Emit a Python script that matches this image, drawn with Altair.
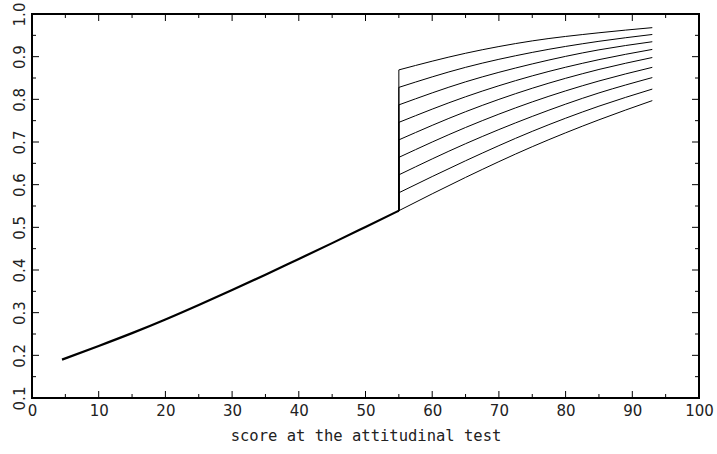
import altair as alt
import pandas as pd

# ---- data ----
base_x = [4.5, 10, 15, 20, 25, 30, 35, 40, 45, 50, 55]
base_y = [0.190, 0.222, 0.252, 0.284, 0.318, 0.353, 0.389, 0.426, 0.463, 0.501, 0.539]

branch_x = [55, 65, 75, 85, 93]
branch_b0 = [0.539, 0.617, 0.689, 0.752, 0.797]
branch_b1 = [0.581, 0.656, 0.725, 0.784, 0.824]
branch_b2 = [0.623, 0.696, 0.760, 0.815, 0.851]
branch_b3 = [0.664, 0.734, 0.794, 0.843, 0.875]
branch_b4 = [0.705, 0.771, 0.826, 0.870, 0.898]
branch_b5 = [0.746, 0.806, 0.855, 0.893, 0.917]
branch_b6 = [0.787, 0.841, 0.883, 0.916, 0.935]
branch_b7 = [0.828, 0.875, 0.910, 0.936, 0.952]
branch_b8 = [0.869, 0.908, 0.937, 0.956, 0.968]
branches = [branch_b0, branch_b1, branch_b2, branch_b3, branch_b4,
            branch_b5, branch_b6, branch_b7, branch_b8]

x_major = [0, 10, 20, 30, 40, 50, 60, 70, 80, 90, 100]
x_minor = [5, 15, 25, 35, 45, 55, 65, 75, 85, 95]
y_major = [0.1, 0.2, 0.3, 0.4, 0.5, 0.6, 0.7, 0.8, 0.9, 1.0]
y_minor = [0.15, 0.25, 0.35, 0.45, 0.55, 0.65, 0.75, 0.85, 0.95]

x_title = "score at the attitudinal test"

W, H = 667, 384
MAJ, MIN = 7, 4
LABEL_FONT = "DejaVu Sans"
INK = "#222222"

# ---- tables ----
base_df = pd.DataFrame({"x": base_x, "y": base_y})
rows = []
for i, b in enumerate(branches):
    for xv, yv in zip(branch_x, b):
        rows.append({"x": xv, "y": yv, "branch": i})
branch_df = pd.DataFrame(rows)
jump_df = pd.DataFrame({
    "x": [branch_x[0]] * len(branches),
    "y": [base_y[-1]] * len(branches),
    "y2": [b[0] for b in branches],
})
xmaj_df = pd.DataFrame({"x": x_major})
xmin_df = pd.DataFrame({"x": x_minor})
ymaj_df = pd.DataFrame({"y": y_major})
ymin_df = pd.DataFrame({"y": y_minor})

xscale = alt.Scale(domain=[0, 100], nice=False, zero=False)
yscale = alt.Scale(domain=[0.1, 1.0], nice=False, zero=False)

xaxis = alt.Axis(values=x_major, format="d", ticks=False, domain=False, grid=False,
                 labelFont=LABEL_FONT, labelFontSize=15, labelColor=INK,
                 labelBaseline="top", labelPadding=5, labelFlush=False, labelOverlap=False,
                 title=x_title, titleFont="DejaVu Sans Mono", titleFontSize=15.5,
                 titleFontWeight="normal", titleColor=INK, titlePadding=10)
yaxis = alt.Axis(values=y_major, format=".1f", ticks=False, domain=False, grid=False,
                 labelFont=LABEL_FONT, labelFontSize=15, labelColor=INK,
                 labelAngle=-90, labelAlign="center", labelBaseline="alphabetic",
                 labelPadding=8, labelFlush=False, labelOverlap=False, title=None)

X = alt.X("x:Q", scale=xscale, axis=xaxis)
Y = alt.Y("y:Q", scale=yscale, axis=yaxis)

base_line = alt.Chart(base_df).mark_line(
    color="black", strokeWidth=2.2, interpolate="natural"
).encode(x=X, y=Y)

branch_lines = alt.Chart(branch_df).mark_line(
    color="black", strokeWidth=1, interpolate="monotone"
).encode(x=X, y=Y, detail="branch:N")

jumps = alt.Chart(jump_df).mark_rule(color="black", strokeWidth=1).encode(
    x=X, y=Y, y2="y2:Q"
)

def xticks(df, length):
    bottom = alt.Chart(df).mark_rule(color="black", strokeWidth=1).encode(
        x=X, y=alt.value(H), y2=alt.value(H - length))
    top = alt.Chart(df).mark_rule(color="black", strokeWidth=1).encode(
        x=X, y=alt.value(0), y2=alt.value(length))
    return [bottom, top]

def yticks(df, length):
    left = alt.Chart(df).mark_rule(color="black", strokeWidth=1).encode(
        y=Y, x=alt.value(0), x2=alt.value(length))
    right = alt.Chart(df).mark_rule(color="black", strokeWidth=1).encode(
        y=Y, x=alt.value(W), x2=alt.value(W - length))
    return [left, right]

layers = [base_line, branch_lines, jumps]
layers += xticks(xmaj_df, MAJ) + xticks(xmin_df, MIN)
layers += yticks(ymaj_df, MAJ) + yticks(ymin_df, MIN)

chart = alt.layer(*layers).properties(
    width=W, height=H,
    autosize=alt.AutoSizeParams(type="none"),
    padding={"left": 32, "top": 14, "right": 18, "bottom": 56},
    background="white",
).configure_view(
    stroke="black", strokeWidth=2
)

chart.save("out.html", embed_options={"renderer": "svg", "actions": False})
